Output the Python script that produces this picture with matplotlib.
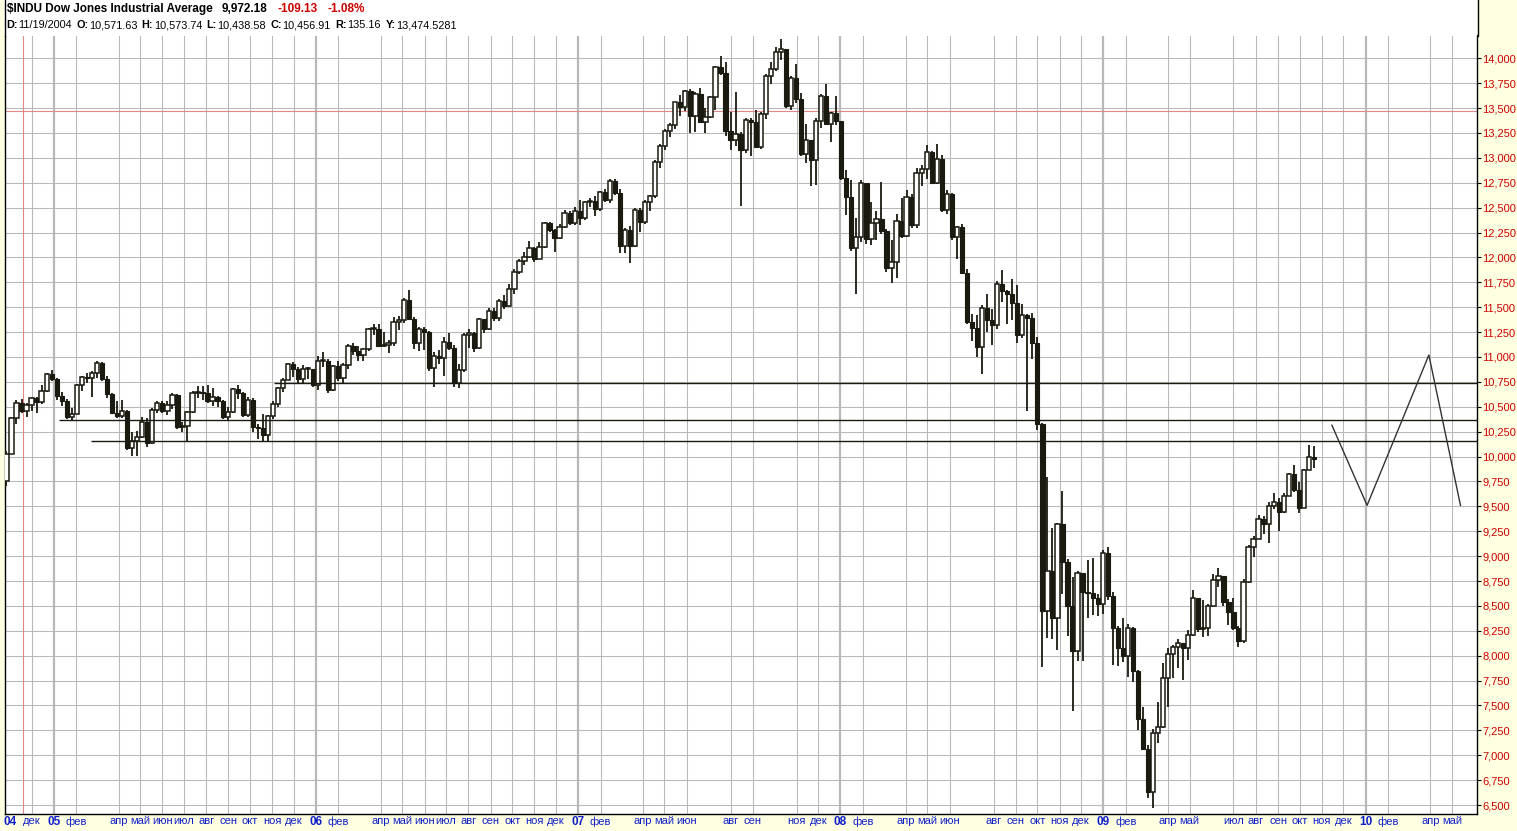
import numpy as np
import pandas as pd
import matplotlib
matplotlib.use('Agg')
import matplotlib.pyplot as plt
import matplotlib.dates as mdates
from matplotlib.lines import Line2D
from matplotlib.patches import Rectangle

plt.rcParams['font.family'] = ['Liberation Sans', 'DejaVu Sans']

# weekly candles (week ending Fridays from 2004-10-29)
first_open = 9757
close_2004 = [10027, 10387, 10540, 10457, 10522, 10592, 10543, 10661, 10828, 10783]
high_2004 = [10060, 10400, 10570, 10575, 10540, 10600, 10600, 10720, 10840, 10870]
low_2004 = [9708, 10030, 10330, 10440, 10400, 10460, 10440, 10530, 10650, 10760]

close_2005 = [10604, 10559, 10393, 10428, 10716, 10796, 10785, 10841, 10941, 10774, 10630, 10442,
              10404, 10461, 10088, 10158, 10193, 10345, 10140, 10471, 10542, 10460, 10513, 10623,
              10297, 10303, 10449, 10640, 10651, 10641, 10558, 10600, 10559, 10397, 10447, 10679,
              10641, 10420, 10569, 10292, 10287, 10215, 10403, 10531, 10686, 10766, 10931, 10877,
              10779, 10876, 10883, 10718]
high_2005 = [10790, 10650, 10580, 10490, 10730, 10810, 10840, 10860, 10960, 10950, 10810, 10640,
             10560, 10570, 10470, 10250, 10260, 10400, 10390, 10490, 10560, 10560, 10560, 10640,
             10630, 10350, 10460, 10660, 10710, 10710, 10720, 10690, 10610, 10570, 10500, 10690,
             10720, 10650, 10600, 10590, 10330, 10430, 10420, 10560, 10700, 10790, 10940, 10950,
             10900, 10920, 10900, 10880]
low_2005 = [10570, 10510, 10380, 10368, 10430, 10660, 10740, 10600, 10790, 10760, 10590, 10430,
            10390, 10390, 10070, 10010, 10010, 10190, 10100, 10130, 10440, 10440, 10420, 10480,
            10280, 10250, 10160, 10440, 10590, 10570, 10540, 10510, 10500, 10380, 10360, 10440,
            10580, 10400, 10400, 10250, 10180, 10160, 10150, 10380, 10500, 10650, 10770, 10800,
            10740, 10740, 10780, 10700]

close_2006 = [10959, 10960, 10667, 10907, 10793, 10920, 11115, 11062, 11021, 11076, 11280, 11280,
              11109, 11120, 11137, 11347, 11367, 11577, 11380, 11144, 11278, 11247, 10891, 11015,
              10989, 11150, 11091, 10739, 10869, 11220, 11240, 11088, 11381, 11284, 11464, 11392,
              11560, 11508, 11679, 11850, 11961, 12002, 12090, 11986, 12108, 12342, 12280, 12194,
              12307, 12445, 12343, 12463]
high_2006 = [11010, 11050, 10980, 10920, 10960, 10940, 11130, 11140, 11110, 11090, 11290, 11330,
             11330, 11250, 11170, 11400, 11410, 11590, 11670, 11400, 11300, 11300, 11260, 11050,
             11070, 11200, 11240, 11120, 10930, 11240, 11280, 11250, 11390, 11380, 11490, 11490,
             11580, 11620, 11730, 11880, 11980, 12050, 12170, 12100, 12150, 12360, 12360, 12290,
             12340, 12480, 12470, 12510]
low_2006 = [10670, 10900, 10640, 10660, 10760, 10730, 10880, 11020, 10960, 10960, 11060, 11220,
            11100, 11100, 11040, 11110, 11270, 11340, 11370, 11080, 11060, 11070, 10860, 10700,
            10930, 10810, 11070, 10700, 10690, 10850, 11090, 11050, 11080, 11240, 11270, 11360,
            11360, 11480, 11500, 11630, 11830, 11920, 11990, 11950, 11980, 12090, 12260, 12050,
            12190, 12300, 12330, 12330]

close_2007 = [12398, 12556, 12566, 12487, 12653, 12581, 12768, 12648, 12114, 12277, 12111, 12481,
              12354, 12560, 12613, 12962, 13121, 13265, 13327, 13557, 13507, 13669, 13424, 13640,
              13361, 13409, 13612, 13908, 13851, 13266, 13182, 13240, 13079, 13379, 13358, 13113,
              13443, 13821, 13896, 14066, 14093, 13522, 13807, 13596, 13043, 13177, 12981, 13372,
              13626, 13340, 13451, 13366]
high_2007 = [12580, 12570, 12600, 12620, 12670, 12690, 12790, 12790, 12690, 12300, 12320, 12500,
             12500, 12580, 12630, 12980, 13140, 13290, 13350, 13560, 13630, 13680, 13690, 13660,
             13700, 13500, 13620, 13920, 14020, 13960, 13460, 13660, 13260, 13400, 13400, 13480,
             13460, 13840, 13960, 14110, 14198, 14090, 13820, 13940, 13650, 13340, 13180, 13400,
             13640, 13740, 13460, 13620]
low_2007 = [12330, 12380, 12510, 12420, 12470, 12560, 12550, 12630, 12040, 12040, 11940, 12100,
            12260, 12340, 12470, 12600, 12900, 13080, 13210, 13290, 13420, 13470, 13250, 13260,
            13350, 13250, 13400, 13480, 13830, 13220, 13080, 13120, 12518, 13050, 13020, 13100,
            13090, 13390, 13740, 13870, 13980, 13500, 13480, 13550, 13020, 12950, 12720, 12730,
            13300, 13330, 13160, 13330]

close_2008 = [12800, 12606, 12099, 12207, 12743, 12183, 12348, 12381, 12266, 11894, 11951, 12361,
              12216, 12609, 12325, 12849, 12891, 13058, 12745, 12986, 12480, 12638, 12209, 12308,
              11843, 11347, 11288, 11101, 11496, 11371, 11326, 11734, 11660, 11628, 11544, 11220,
              11422, 11388, 11143, 10325, 8451, 8852, 8378, 9325, 8943, 8497, 8046, 8829,
              8635, 8629, 8579, 8515]
high_2008 = [13370, 12880, 12780, 12400, 12780, 12750, 12560, 12470, 12760, 12290, 12180, 12440,
             12600, 12680, 12640, 12900, 12930, 13130, 13070, 13136, 13030, 12680, 12650, 12320,
             12340, 11880, 11430, 11420, 11520, 11630, 11480, 11760, 11870, 11670, 11780, 11720,
             11530, 11430, 11440, 11200, 10340, 9790, 9280, 9330, 9654, 8970, 8790, 8850,
             8830, 8960, 8980, 8620]
low_2008 = [12780, 12430, 12060, 11635, 12150, 12130, 12120, 12180, 12240, 11850, 11740, 11790,
            12200, 12210, 12300, 12300, 12720, 12790, 12740, 12740, 12460, 12440, 12180, 11980,
            11830, 11330, 11160, 11000, 10830, 11250, 11120, 11280, 11550, 11330, 11370, 11140,
            11190, 10460, 10980, 10270, 7882, 8180, 8170, 8060, 8620, 8200, 7449, 7950,
            7950, 8380, 8410, 8400]

close_2009 = [9034, 8599, 8281, 8077, 8001, 8280, 7850, 7366, 7063, 6627, 7224, 7279,
              7776, 8018, 8083, 8131, 8076, 8212, 8575, 8268, 8277, 8500, 8764, 8799,
              8539, 8438, 8280, 8146, 8743, 9093, 9172, 9370, 9321, 9505, 9544, 9441,
              9605, 9820, 9665, 9488, 9865, 9995, 9972]
high_2009 = [9060, 9089, 8640, 8300, 8380, 8320, 8290, 7860, 7480, 7100, 7260, 7530,
             7930, 8080, 8110, 8170, 8130, 8260, 8660, 8570, 8560, 8520, 8820, 8878,
             8800, 8570, 8580, 8300, 8770, 9110, 9200, 9410, 9400, 9540, 9630, 9580,
             9630, 9830, 9920, 9740, 9880, 10120, 10110]
low_2009 = [8420, 8560, 7910, 7900, 7940, 7790, 7740, 7250, 7050, 6570, 6470, 7120,
            7270, 7480, 7780, 7880, 7760, 7960, 8200, 8240, 8190, 8200, 8490, 8690,
            8500, 8310, 8260, 8087, 8130, 8730, 8990, 9170, 9220, 9130, 9470, 9250,
            9430, 9600, 9640, 9430, 9480, 9860, 9890]

closes = close_2004 + close_2005 + close_2006 + close_2007 + close_2008 + close_2009
highs = high_2004 + high_2005 + high_2006 + high_2007 + high_2008 + high_2009
lows = low_2004 + low_2005 + low_2006 + low_2007 + low_2008 + low_2009
opens = [first_open] + closes[:-1]

# horizontal levels drawn on the chart
support_levels = [10737, 10365, 10155]
support_start = ['2005-11-03', '2005-01-08', '2005-02-22']

# hand-drawn projection
proj_dates = ['2009-11-15', '2010-01-03', '2010-03-30', '2010-05-13']
proj_values = [10315, 9510, 11020, 9510]

cursor_date = '2004-11-19'
cursor_value = 13474.5281

# month labels, Nov 2004 .. Jun 2010 ('' = no label / no grid line)
month_names = ['04', 'дек',
               '05', 'фев', '', 'апр', 'май', 'июн', 'июл', 'авг', 'сен', 'окт', 'ноя', 'дек',
               '06', 'фев', '', 'апр', 'май', 'июн', 'июл', 'авг', 'сен', 'окт', 'ноя', 'дек',
               '07', 'фев', '', 'апр', 'май', 'июн', '', 'авг', 'сен', '', 'ноя', 'дек',
               '08', 'фев', '', 'апр', 'май', 'июн', '', 'авг', 'сен', 'окт', 'ноя', 'дек',
               '09', 'фев', '', 'апр', 'май', '', 'июл', 'авг', 'сен', 'окт', 'ноя', 'дек',
               '10', 'фев', '', 'апр', 'май', '']

header_top = [('$INDU Dow Jones Industrial Average', 'black'), ('9,972.18', 'black'),
              ('-109.13', '#cc0000'), ('-1.08%', '#cc0000')]
header_fields = [('D:', '11/19/2004'), ('O:', '10,571.63'), ('H:', '10,573.74'), ('L:', '10,438.58'),
                 ('C:', '10,456.91'), ('R:', '135.16'), ('Y:', '13,474.5281')]

W, H = 1517, 831
bg_yellow = '#ffffe1'
ink = '#1a1a10'
grid_c = '#b8b8b8'
blue = '#1020c8'
red = '#cc0000'

fig = plt.figure(figsize=(W / 100, H / 100), dpi=100, facecolor=bg_yellow)
# white header strip
fig.patches.append(Rectangle((4 / W, 1 - 36 / H), 1473 / W, 36 / H, transform=fig.transFigure,
                             facecolor='white', edgecolor='none', zorder=0))
ax = fig.add_axes([5 / W, 17 / H, 1472 / W, (814 - 35) / H])
ax.set_facecolor('white')

weeks = pd.date_range('2004-10-29', periods=len(closes), freq='W-FRI') - pd.Timedelta(days=2)
x = mdates.date2num(weeks)
o = np.array(opens, dtype=float)
c = np.array(closes, dtype=float)
hi = np.array(highs, dtype=float)
lo = np.array(lows, dtype=float)
up = c >= o
bottom = np.minimum(o, c)
height = np.maximum(np.abs(c - o), 10)

ax.vlines(x, lo, hi, color=ink, lw=1.3, zorder=3)
ax.bar(x[~up], height[~up], bottom=bottom[~up], width=6.0, facecolor=ink, edgecolor=ink,
       lw=0.8, zorder=4)
ax.bar(x[up], height[up], bottom=bottom[up], width=6.0, facecolor='white', edgecolor=ink,
       lw=1.1, zorder=4)

# grid
months = pd.date_range('2004-11-01', periods=len(month_names), freq='MS')
tick_pos, tick_lab = [], []
for m, name in zip(months, month_names):
    if not name:
        continue
    xm = mdates.date2num(m)
    tick_pos.append(xm)
    tick_lab.append(name)
    if m.year == 2004 and m.month == 11:
        continue
    is_year = m.month == 1
    ax.axvline(xm, color=grid_c, lw=1.6 if is_year else 0.75, zorder=1)
yticks = np.arange(6500, 14001, 250)
for yv in yticks:
    ax.axhline(yv, color=grid_c, lw=0.75, zorder=1)

# cursor crosshair
ax.axvline(mdates.date2num(pd.Timestamp(cursor_date)), color='#e08888', lw=0.8, zorder=2)
ax.axhline(cursor_value, color='#e08888', lw=0.8, zorder=2)

x_left = mdates.date2num(pd.Timestamp('2004-10-25'))
x_right = mdates.date2num(pd.Timestamp('2010-06-05'))

for lvl, start in zip(support_levels, support_start):
    ax.hlines(lvl, mdates.date2num(pd.Timestamp(start)), x_right, color=ink, lw=1.0, zorder=5)

ax.plot(mdates.date2num(pd.to_datetime(proj_dates)), proj_values, color='#333333', lw=1.0, zorder=5)

ax.set_xlim(x_left, x_right)
ax.set_ylim(6410, 14234)

ax.yaxis.tick_right()
ax.set_yticks(yticks)
ax.set_yticklabels([f'{v:,}' for v in yticks], color=red, fontsize=8)
ax.tick_params(axis='y', length=3, width=0.8, color='black', pad=1)

ax.set_xticks(tick_pos)
ax.set_xticklabels(tick_lab, color=blue, fontsize=8)
ax.tick_params(axis='x', length=0, pad=1.5)
for lab in ax.get_xticklabels():
    if lab.get_text().isdigit():
        lab.set_fontweight('bold')
        lab.set_fontsize(8.5)

for side in ['left', 'right', 'bottom']:
    ax.spines[side].set_color('black')
    ax.spines[side].set_linewidth(1.0)
ax.spines['top'].set_visible(False)

# borders through header strip
fig.lines.append(Line2D([4.5 / W, 4.5 / W], [1 - 36 / H, 1], transform=fig.transFigure, color='black', lw=1.0))
fig.lines.append(Line2D([1477.5 / W, 1477.5 / W], [1 - 36 / H, 1], transform=fig.transFigure, color='black', lw=1.0))

# header, laid out left to right
renderer = fig.canvas.get_renderer()


def put(px, py, s, bold, color, size):
    t = fig.text(px / W, 1 - py / H, s, ha='left', va='center', fontsize=size,
                 fontweight='bold' if bold else 'normal', color=color)
    return t.get_window_extent(renderer).x1


px = 7
for i, (s, col) in enumerate(header_top):
    px = put(px, 9, s, True, col, 8.5) + (9 if i == 0 else 10)

px = 6
for lab, val in header_fields:
    px = put(px, 25, lab, True, 'black', 7.8) + 0.5
    px = put(px, 25, val, False, 'black', 7.8) + 4.5

fig.savefig('out.png', dpi=100, facecolor=bg_yellow)
